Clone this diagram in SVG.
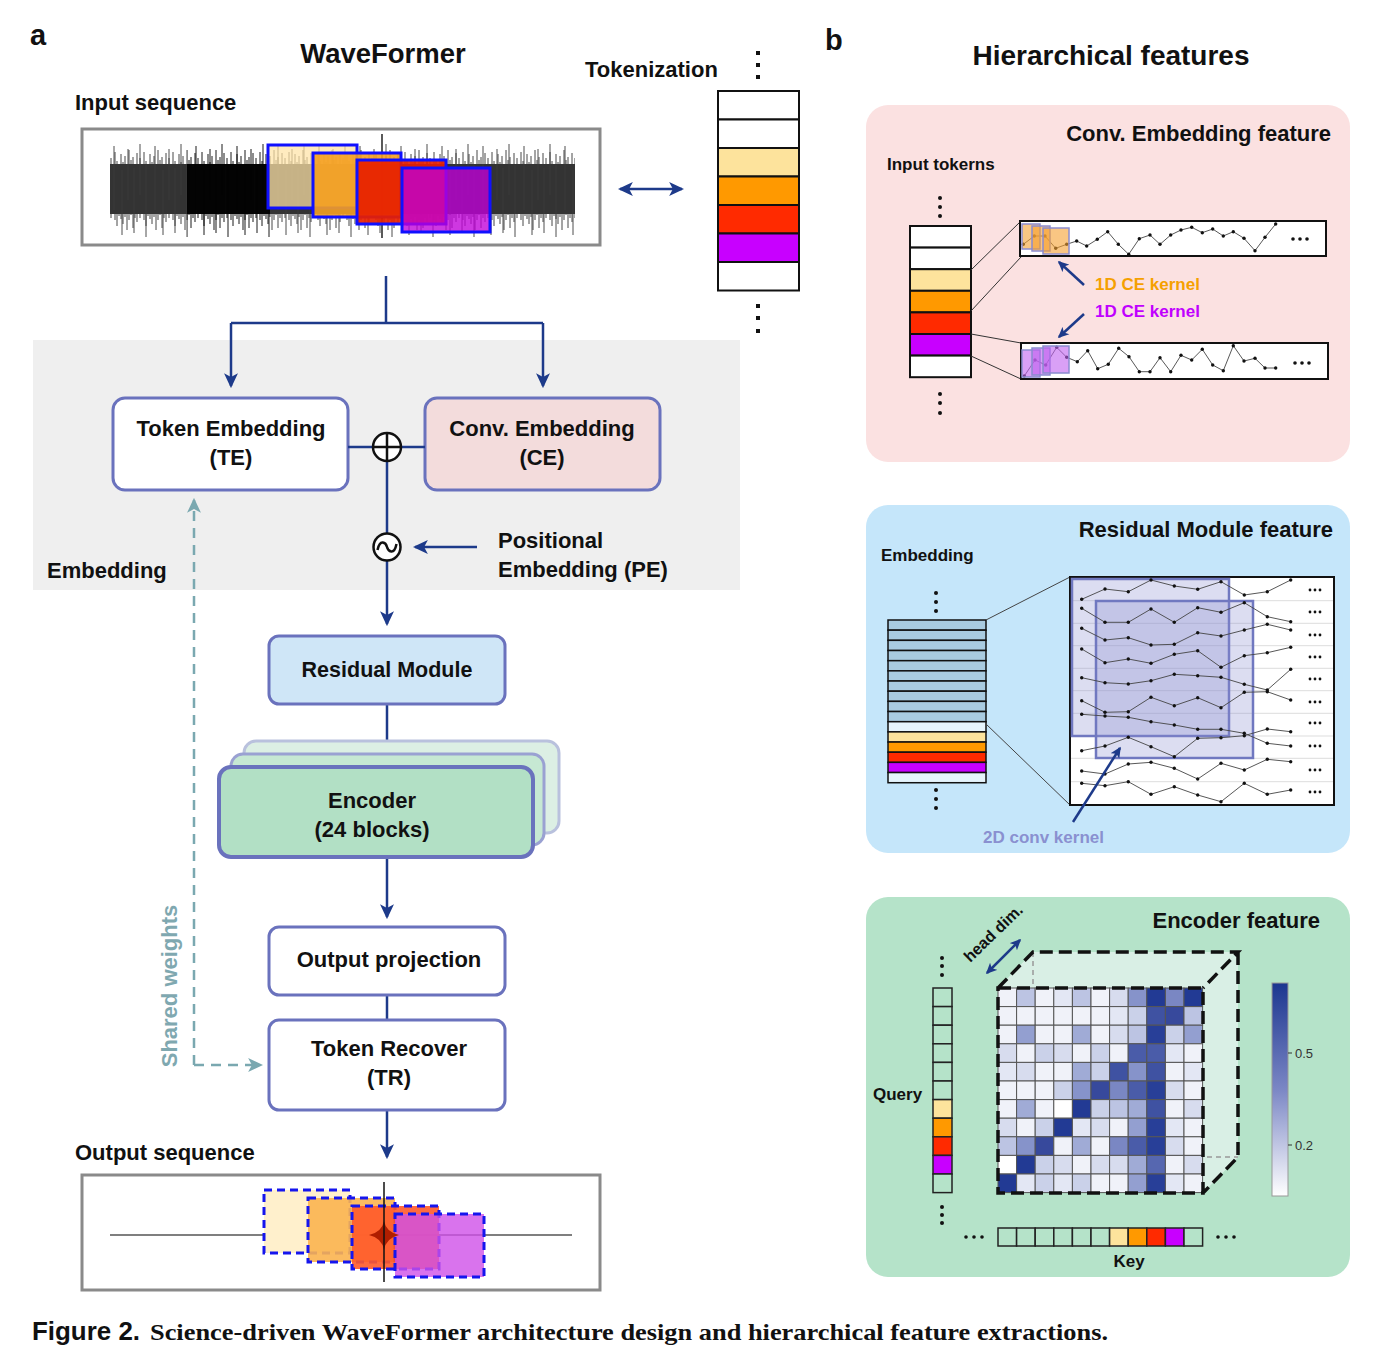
<svg xmlns="http://www.w3.org/2000/svg" xmlns:xlink="http://www.w3.org/1999/xlink" width="1380" height="1350" viewBox="0 0 1380 1350">
<style>
.t{font-family:"Liberation Sans",Arial,sans-serif;font-weight:bold;fill:#111}
.box{stroke:#6a72bd;stroke-width:3}
.nav{stroke:#1d3a8a;stroke-width:2.5;fill:none}
.tk{stroke:#111;stroke-width:2}
.sig{fill:none;stroke:#444;stroke-width:0.9;marker-start:url(#dot);marker-mid:url(#dot);marker-end:url(#dot)}
.mx rect{stroke:#555;stroke-width:1}
.c0{fill:#ffffff}.c1{fill:#f0f2f9}.c2{fill:#e3e7f4}.c3{fill:#d7dcee}.c4{fill:#cad1e9}.c5{fill:#bcc4e3}.c7{fill:#a0abd6}.c8{fill:#939fd0}.c9{fill:#8693ca}.c10{fill:#7a87c3}.c13{fill:#5667b0}.c14{fill:#4a5ca9}.c15{fill:#3f52a2}.c16{fill:#37499c}.c18{fill:#283f98}.c19{fill:#223a94}
.yl{fill:#fde39c}.or{fill:#ff9900}.rd{fill:#ff2a00}.pu{fill:#c800ff}.wh{fill:#fff}.gr{fill:#b5e3c9}
</style>
<defs>
<marker id="ah" viewBox="0 0 14 14" refX="12" refY="7" markerWidth="15" markerHeight="15" markerUnits="userSpaceOnUse" orient="auto-start-reverse"><path d="M0,0.5 L14,7 L0,13.5 L3.5,7 z" fill="#1d3a8a"/></marker>
<marker id="ahs" viewBox="0 0 14 14" refX="12" refY="7" markerWidth="11" markerHeight="11" markerUnits="userSpaceOnUse" orient="auto-start-reverse"><path d="M0,0.5 L14,7 L0,13.5 L3.5,7 z" fill="#1d3a8a"/></marker>
<marker id="aht" viewBox="0 0 14 14" refX="12" refY="7" markerWidth="15" markerHeight="15" markerUnits="userSpaceOnUse" orient="auto-start-reverse"><path d="M0,0.5 L14,7 L0,13.5 L3.5,7 z" fill="#7aa8b0"/></marker>
<marker id="dot" viewBox="0 0 4 4" refX="2" refY="2" markerWidth="4" markerHeight="4" markerUnits="userSpaceOnUse"><circle cx="2" cy="2" r="1.7" fill="#111"/></marker>
<path id="spkA" fill="none" stroke-width="0.9" d="M1 18V78M3 24V74M5 12V80M7 21V86M9 26V76M11 14V79M13 22V84M15 16V77M17 25V90M19 10V80M21 20V75M23 17V88M25 27V78M27 13V82"/>
<path id="spkB" fill="none" stroke-width="0.9" d="M4 6V70M12 30V95M18 9V60M24 28V93M30 4V55M36 25V97"/>
<pattern id="pA" patternUnits="userSpaceOnUse" x="110" y="140" width="29" height="100"><use xlink:href="#spkA" stroke="#333"/></pattern>
<pattern id="pB" patternUnits="userSpaceOnUse" x="110" y="140" width="41" height="100"><use xlink:href="#spkB" stroke="#3a3a3a"/></pattern>
<pattern id="pAK" patternUnits="userSpaceOnUse" x="110" y="140" width="29" height="100"><use xlink:href="#spkA" stroke="#000"/></pattern>
<pattern id="pBK" patternUnits="userSpaceOnUse" x="110" y="140" width="41" height="100"><use xlink:href="#spkB" stroke="#000"/></pattern>
<linearGradient id="cbar" x1="0" y1="0" x2="0" y2="1"><stop offset="0" stop-color="#1c3690"/><stop offset="0.5" stop-color="#7b87c5"/><stop offset="1" stop-color="#ffffff"/></linearGradient>
</defs>

<!-- Panel a -->
<text class="t" x="30" y="45" font-size="29">a</text>
<text class="t" x="383" y="63" font-size="27.5" text-anchor="middle">WaveFormer</text>
<text class="t" x="585" y="77" font-size="22">Tokenization</text>
<text class="t" x="75" y="110" font-size="22">Input sequence</text>

<rect x="33" y="340" width="707" height="250" fill="#efefef"/>
<text class="t" x="47" y="578" font-size="22">Embedding</text>

<g id="input-sequence">
<rect x="82" y="129" width="518" height="116" fill="#fff" stroke="#8a8a8a" stroke-width="3"/>
<rect x="110" y="164" width="77" height="50" fill="#333"/>
<rect x="187" y="164" width="83" height="50" fill="#050505"/>
<rect x="270" y="164" width="305" height="50" fill="#333"/>
<rect x="110" y="140" width="77" height="100" fill="url(#pA)"/>
<rect x="110" y="140" width="77" height="100" fill="url(#pB)"/>
<rect x="187" y="140" width="83" height="100" fill="url(#pAK)"/>
<rect x="187" y="140" width="83" height="100" fill="url(#pBK)"/>
<rect x="270" y="140" width="305" height="100" fill="url(#pA)"/>
<rect x="270" y="140" width="305" height="100" fill="url(#pB)"/>
<line x1="382" y1="134" x2="382" y2="238" stroke="#000" stroke-width="1.3"/>
<rect x="268" y="145" width="89" height="63" fill="#ffe3a6" fill-opacity="0.72" stroke="#1010ff" stroke-width="3"/>
<rect x="313" y="153" width="88" height="64" fill="#f5a020" fill-opacity="0.9" stroke="#1010ff" stroke-width="3"/>
<rect x="357" y="160" width="89" height="64" fill="#e82000" fill-opacity="0.92" stroke="#1010ff" stroke-width="3"/>
<rect x="402" y="168" width="88" height="64" fill="#c000d8" fill-opacity="0.78" stroke="#1010ff" stroke-width="3"/>
</g>

<g id="tokenization">
<rect x="718" y="91" width="81" height="28.5" class="wh tk"/>
<rect x="718" y="119.5" width="81" height="28.5" class="wh tk"/>
<rect x="718" y="148" width="81" height="28.5" class="yl tk"/>
<rect x="718" y="176.5" width="81" height="28.5" class="or tk"/>
<rect x="718" y="205" width="81" height="28.5" class="rd tk"/>
<rect x="718" y="233.5" width="81" height="28.5" class="pu tk"/>
<rect x="718" y="262" width="81" height="28.5" class="wh tk"/>
<g fill="#111"><rect x="756" y="51" width="4" height="4"/><rect x="756" y="63" width="4" height="4"/><rect x="756" y="75" width="4" height="4"/><rect x="756" y="304" width="4" height="4"/><rect x="756" y="316" width="4" height="4"/><rect x="756" y="329" width="4" height="4"/></g>
</g>

<g id="token-embedding">
<rect x="113" y="398" width="235" height="92" rx="12" fill="#fff" class="box"/>
<text class="t" x="231" y="436" font-size="22" text-anchor="middle">Token Embedding</text>
<text class="t" x="231" y="465" font-size="22" text-anchor="middle">(TE)</text>
</g>
<g id="conv-embedding">
<rect x="425" y="398" width="235" height="92" rx="12" fill="#f3dcdc" class="box"/>
<text class="t" x="542" y="436" font-size="22" text-anchor="middle">Conv. Embedding</text>
<text class="t" x="542" y="465" font-size="22" text-anchor="middle">(CE)</text>
</g>

<g id="connectors">
<path class="nav" d="M386 276V323M231 323H543" />
<line class="nav" x1="231" y1="323" x2="231" y2="386" marker-end="url(#ah)"/>
<line class="nav" x1="543" y1="323" x2="543" y2="386" marker-end="url(#ah)"/>
<line class="nav" x1="620" y1="189" x2="682" y2="189" stroke-width="3" marker-start="url(#ah)" marker-end="url(#ah)"/>
<path class="nav" d="M348 447H425M387 461V533"/>
<line class="nav" x1="387" y1="561" x2="387" y2="624" marker-end="url(#ah)"/>
<line class="nav" x1="477" y1="547" x2="415" y2="547" marker-end="url(#ah)"/>
<line class="nav" x1="387" y1="704" x2="387" y2="742"/>
<line class="nav" x1="387" y1="858" x2="387" y2="917" marker-end="url(#ah)"/>
<line class="nav" x1="387" y1="995" x2="387" y2="1020"/>
<line class="nav" x1="387" y1="1110" x2="387" y2="1157" marker-end="url(#ah)"/>
<path d="M194 1065V500" fill="none" stroke="#7aa8b0" stroke-width="2.5" stroke-dasharray="10 7" marker-end="url(#aht)"/>
<path d="M194 1065H261" fill="none" stroke="#7aa8b0" stroke-width="2.5" stroke-dasharray="10 7" marker-end="url(#aht)"/>
</g>

<g id="add-op">
<circle cx="387" cy="447" r="14" fill="#fff" stroke="#111" stroke-width="2.5"/>
<path d="M373 447H401M387 433V461" stroke="#111" stroke-width="2.5"/>
</g>
<g id="pe-op">
<circle cx="387" cy="547" r="13.5" fill="#fff" stroke="#111" stroke-width="2.5"/>
<path d="M377.5 550C380 538 386 543 387 547C388 551 394 556 396.5 544" fill="none" stroke="#111" stroke-width="2.5"/>
</g>
<g id="positional-embedding">
<text class="t" x="498" y="548" font-size="22">Positional</text>
<text class="t" x="498" y="577" font-size="22">Embedding (PE)</text>
</g>

<g id="residual-module">
<rect x="269" y="636" width="236" height="68" rx="10" fill="#cfe6f7" class="box"/>
<text class="t" x="387" y="677" font-size="21.5" text-anchor="middle">Residual Module</text>
</g>

<g id="encoder">
<rect x="244" y="741" width="315" height="92" rx="12" fill="#dcefe4" stroke="#b9c1dd" stroke-width="3"/>
<rect x="231" y="754" width="313" height="91" rx="12" fill="#c6e8d3" stroke="#9aa1d2" stroke-width="3"/>
<rect x="219" y="767" width="314" height="90" rx="12" fill="#b2e0c5" stroke="#6a72bd" stroke-width="4"/>
<text class="t" x="372" y="808" font-size="22" text-anchor="middle">Encoder</text>
<text class="t" x="372" y="837" font-size="22" text-anchor="middle">(24 blocks)</text>
</g>

<g id="output-projection">
<rect x="269" y="927" width="236" height="68" rx="10" fill="#fff" class="box"/>
<text class="t" x="389" y="967" font-size="22" text-anchor="middle">Output projection</text>
</g>
<g id="token-recover">
<rect x="269" y="1020" width="236" height="90" rx="10" fill="#fff" class="box"/>
<text class="t" x="389" y="1056" font-size="22" text-anchor="middle">Token Recover</text>
<text class="t" x="389" y="1085" font-size="22" text-anchor="middle">(TR)</text>
</g>

<text class="t" x="177" y="986" font-size="22" text-anchor="middle" style="fill:#7fa8b0" transform="rotate(-90 177 986)">Shared weights</text>

<text class="t" x="75" y="1160" font-size="22">Output sequence</text>
<g id="output-sequence">
<rect x="82" y="1175" width="518" height="115" fill="#fff" stroke="#8a8a8a" stroke-width="3"/>
<line x1="110" y1="1235" x2="572" y2="1235" stroke="#555" stroke-width="1.5"/>
<rect x="264" y="1190" width="86" height="63" fill="#fff0cc" stroke="#1515ee" stroke-width="3" stroke-dasharray="8 5"/>
<rect x="308" y="1198" width="87" height="64" fill="#fbb450" fill-opacity="0.9" stroke="#1515ee" stroke-width="3" stroke-dasharray="8 5"/>
<rect x="352" y="1206" width="87" height="63" fill="#ff5a2a" fill-opacity="0.9" stroke="#1515ee" stroke-width="3" stroke-dasharray="8 5"/>
<rect x="395" y="1214" width="89" height="63" fill="#d050e8" fill-opacity="0.8" stroke="#1515ee" stroke-width="3" stroke-dasharray="8 5"/>
<path d="M384 1221Q386 1232 399 1235Q386 1238 384 1250Q382 1238 369 1235Q382 1232 384 1221Z" fill="#b01e00"/>
<line x1="384" y1="1182" x2="384" y2="1282" stroke="#111" stroke-width="1.5"/>
</g>

<text x="32" y="1340" font-family="'Liberation Sans',Arial,sans-serif" font-weight="bold" font-size="25" textLength="108" lengthAdjust="spacingAndGlyphs" fill="#111">Figure 2.</text>
<text x="150" y="1340" font-family="'Liberation Serif','Times New Roman',serif" font-weight="bold" font-size="23" textLength="958" lengthAdjust="spacingAndGlyphs" fill="#111">Science-driven WaveFormer architecture design and hierarchical feature extractions.</text>

<!-- Panel b -->
<text class="t" x="825" y="50" font-size="29">b</text>
<text class="t" x="1111" y="65" font-size="28" text-anchor="middle">Hierarchical features</text>

<g id="conv-embedding-feature">
<rect x="866" y="105" width="484" height="357" rx="22" fill="#fbe1e1"/>
<text class="t" x="1331" y="141" font-size="22" text-anchor="end">Conv. Embedding feature</text>
<text class="t" x="887" y="170" font-size="17">Input tokerns</text>
<g fill="#111"><circle cx="940" cy="198" r="2"/><circle cx="940" cy="207" r="2"/><circle cx="940" cy="216" r="2"/><circle cx="940" cy="394" r="2"/><circle cx="940" cy="403" r="2"/><circle cx="940" cy="413" r="2"/></g>
<rect x="910" y="226" width="61" height="21.6" class="wh tk"/>
<rect x="910" y="247.6" width="61" height="21.6" class="wh tk"/>
<rect x="910" y="269.2" width="61" height="21.6" class="yl tk"/>
<rect x="910" y="290.8" width="61" height="21.6" class="or tk"/>
<rect x="910" y="312.4" width="61" height="21.6" class="rd tk"/>
<rect x="910" y="334" width="61" height="21.6" class="pu tk"/>
<rect x="910" y="355.6" width="61" height="21.6" class="wh tk"/>
<path d="M971 270L1021 221M971 311L1021 257M971 334L1021 343M971 356L1021 379" stroke="#333" stroke-width="1"/>
<rect x="1020" y="221" width="306" height="35" fill="#fff" stroke="#111" stroke-width="2"/>
<rect x="1021" y="343" width="307" height="36" fill="#fff" stroke="#111" stroke-width="2"/>
<polyline class="sig" points="1023.3,244.3 1034.3,236 1045,236 1055.7,248.3 1066.7,244.3 1076.7,241 1086.7,246 1097.3,239.3 1107.7,231.7 1118.3,244.3 1128.7,254.3 1139.3,238.7 1150,235 1160,244.3 1170.7,235 1181,230 1191.7,227.3 1202.3,232.7 1212.7,229 1223.3,236 1233.3,231.7 1244,238.3 1255,250.7 1265,237.3 1275.7,224"/>
<polyline class="sig" points="1024.3,376 1035,360 1045.7,365 1056.7,347.3 1066.7,357.3 1077.3,361.7 1087.7,350.7 1097.7,368.7 1108.3,364.3 1118.7,348.3 1129,356.7 1139.3,371.7 1150,371.7 1160,357.7 1170.7,371.7 1181,355.3 1191.7,360 1202.3,349.3 1212.7,365 1223.3,370.7 1233.3,345.7 1244,361 1255,358.3 1265,368 1275.7,368"/>
<g fill="#f5a030" fill-opacity="0.6" stroke="#8a8ccf" stroke-width="1.5">
<rect x="1022" y="224" width="18" height="25"/><rect x="1032" y="226" width="18" height="25"/><rect x="1043" y="228" width="26" height="26"/>
</g>
<g fill="#c060f0" fill-opacity="0.6" stroke="#8a8ccf" stroke-width="1.5">
<rect x="1022" y="350" width="18" height="27"/><rect x="1032" y="348" width="18" height="27"/><rect x="1043" y="346" width="26" height="27"/>
</g>
<g fill="#111"><circle cx="1293" cy="239" r="1.8"/><circle cx="1300" cy="239" r="1.8"/><circle cx="1307" cy="239" r="1.8"/><circle cx="1295" cy="363" r="1.8"/><circle cx="1302" cy="363" r="1.8"/><circle cx="1309" cy="363" r="1.8"/></g>
<text class="t" x="1095" y="290" font-size="17" style="fill:#f5a000">1D CE kernel</text>
<text class="t" x="1095" y="317" font-size="17" style="fill:#c000ff">1D CE kernel</text>
</g>

<g id="residual-module-feature">
<rect x="866" y="505" width="484" height="348" rx="22" fill="#c5e6fa"/>
<text class="t" x="1333" y="537" font-size="22" text-anchor="end">Residual Module feature</text>
<text class="t" x="881" y="561" font-size="17">Embedding</text>
<g fill="#111"><circle cx="936" cy="593" r="2"/><circle cx="936" cy="602" r="2"/><circle cx="936" cy="611" r="2"/><circle cx="936" cy="790" r="2"/><circle cx="936" cy="799" r="2"/><circle cx="936" cy="808" r="2"/></g>
<g stroke="#111" stroke-width="1.5">
<rect x="888" y="620" width="98" height="10.17" fill="#a9cbe0"/>
<rect x="888" y="630.17" width="98" height="10.17" fill="#a9cbe0"/>
<rect x="888" y="640.34" width="98" height="10.17" fill="#a9cbe0"/>
<rect x="888" y="650.51" width="98" height="10.17" fill="#a9cbe0"/>
<rect x="888" y="660.68" width="98" height="10.17" fill="#a9cbe0"/>
<rect x="888" y="670.85" width="98" height="10.17" fill="#a9cbe0"/>
<rect x="888" y="681.02" width="98" height="10.17" fill="#a9cbe0"/>
<rect x="888" y="691.19" width="98" height="10.17" fill="#a9cbe0"/>
<rect x="888" y="701.36" width="98" height="10.17" fill="#a9cbe0"/>
<rect x="888" y="711.53" width="98" height="10.17" fill="#a9cbe0"/>
<rect x="888" y="721.7" width="98" height="10.17" fill="#e6f4fc"/>
<rect x="888" y="731.87" width="98" height="10.17" fill="#fde39c"/>
<rect x="888" y="742.04" width="98" height="10.17" fill="#ff9900"/>
<rect x="888" y="752.21" width="98" height="10.17" fill="#ff2a00"/>
<rect x="888" y="762.38" width="98" height="10.17" fill="#c800ff"/>
<rect x="888" y="772.55" width="98" height="10.17" fill="#e6f4fc"/>
</g>
<path d="M986 620L1070 577M986 724L1070 805" stroke="#444" stroke-width="1"/>
<rect x="1070" y="577" width="264" height="228" fill="#fff" stroke="#111" stroke-width="2"/>
<path d="M1071 600.7H1333M1071 623.3H1333M1071 645.7H1333M1071 668.3H1333M1071 690.7H1333M1071 713.3H1333M1071 736H1333M1071 758.3H1333M1071 781.7H1333" stroke="#ddd" stroke-width="1"/>
<rect x="1072" y="579" width="157" height="157" fill="#8a90d0" fill-opacity="0.3" stroke="#7078c0" stroke-width="2.5"/>
<rect x="1096" y="601" width="157" height="157" fill="#8a90d0" fill-opacity="0.3" stroke="#7078c0" stroke-width="2.5"/>
<g>
<polyline class="sig" points="1081.7,599.3 1105,589 1128.3,591.7 1151,580 1174.3,586 1197.7,589.3 1221,581.7 1244.3,595 1267.3,591.7 1290.7,580"/>
<polyline class="sig" points="1081.7,608.3 1105,622.3 1128.3,622.3 1151,609 1174.3,622.3 1197.7,607.7 1221,612.3 1244.3,602.7 1267.3,616.7 1290.7,621.7"/>
<polyline class="sig" points="1081.7,628.3 1105,640 1128.3,637.7 1151,645 1174.3,644.3 1197.7,632.7 1221,636 1244.3,630 1267.3,624.3 1290.7,630"/>
<polyline class="sig" points="1081.7,649 1105,662.7 1128.3,659 1151,663.3 1174.3,654.3 1197.7,650.7 1221,667.3 1244.3,655.7 1267.3,652.7 1290.7,647.3"/>
<polyline class="sig" points="1081.7,677.7 1105,682.7 1128.3,684 1151,680.7 1174.3,674.3 1197.7,675.7 1221,677.3 1244.3,684.3 1267.3,690 1290.7,669.3"/>
<polyline class="sig" points="1081.7,700.7 1105,712.3 1128.3,711.7 1151,697.3 1174.3,705.7 1197.7,697.7 1221,707.7 1244.3,692.3 1267.3,691.7 1290.7,700"/>
<polyline class="sig" points="1081.7,714.3 1105,716 1128.3,717.3 1151,721.7 1174.3,725 1197.7,729.3 1221,729.3 1244.3,733.3 1267.3,743.3 1290.7,746"/>
<polyline class="sig" points="1081.7,750.7 1105,746 1128.3,737.3 1151,746.7 1174.3,756.7 1197.7,738.3 1221,737.7 1244.3,735.7 1267.3,729 1290.7,731.7"/>
<polyline class="sig" points="1081.7,771 1105,774 1128.3,764 1151,762.3 1174.3,768.3 1197.7,779 1221,763.3 1244.3,770 1267.3,759.3 1290.7,761.7"/>
<polyline class="sig" points="1081.7,783.3 1105,785.7 1128.3,781.7 1151,794.3 1174.3,786.7 1197.7,795 1221,801.7 1244.3,783.3 1267.3,794.3 1290.7,790"/>
</g>
<g fill="#111">
<circle cx="1310" cy="590" r="1.4"/><circle cx="1315" cy="590" r="1.4"/><circle cx="1320" cy="590" r="1.4"/>
<circle cx="1310" cy="612" r="1.4"/><circle cx="1315" cy="612" r="1.4"/><circle cx="1320" cy="612" r="1.4"/>
<circle cx="1310" cy="635" r="1.4"/><circle cx="1315" cy="635" r="1.4"/><circle cx="1320" cy="635" r="1.4"/>
<circle cx="1310" cy="657" r="1.4"/><circle cx="1315" cy="657" r="1.4"/><circle cx="1320" cy="657" r="1.4"/>
<circle cx="1310" cy="679" r="1.4"/><circle cx="1315" cy="679" r="1.4"/><circle cx="1320" cy="679" r="1.4"/>
<circle cx="1310" cy="702" r="1.4"/><circle cx="1315" cy="702" r="1.4"/><circle cx="1320" cy="702" r="1.4"/>
<circle cx="1310" cy="723" r="1.4"/><circle cx="1315" cy="723" r="1.4"/><circle cx="1320" cy="723" r="1.4"/>
<circle cx="1310" cy="746" r="1.4"/><circle cx="1315" cy="746" r="1.4"/><circle cx="1320" cy="746" r="1.4"/>
<circle cx="1310" cy="770" r="1.4"/><circle cx="1315" cy="770" r="1.4"/><circle cx="1320" cy="770" r="1.4"/>
<circle cx="1310" cy="792" r="1.4"/><circle cx="1315" cy="792" r="1.4"/><circle cx="1320" cy="792" r="1.4"/>
</g>
<text class="t" x="983" y="843" font-size="17" style="fill:#8a90d0">2D conv kernel</text>
</g>

<g id="encoder-feature">
<rect x="866" y="897" width="484" height="380" rx="22" fill="#b5e3c9"/>
<text class="t" x="1320" y="928" font-size="22" text-anchor="end">Encoder feature</text>
<text class="t" x="997" y="937" font-size="16" text-anchor="middle" transform="rotate(-44 997 937)">head dim.</text>
<text class="t" x="873" y="1100" font-size="17">Query</text>
<g fill="#111"><circle cx="942" cy="958" r="2"/><circle cx="942" cy="966" r="2"/><circle cx="942" cy="975" r="2"/><circle cx="942" cy="1207" r="2"/><circle cx="942" cy="1215" r="2"/><circle cx="942" cy="1223" r="2"/></g>
<g stroke="#222" stroke-width="1.5">
<rect x="933" y="988" width="19" height="18.6" class="gr"/>
<rect x="933" y="1006.6" width="19" height="18.6" class="gr"/>
<rect x="933" y="1025.2" width="19" height="18.6" class="gr"/>
<rect x="933" y="1043.8" width="19" height="18.6" class="gr"/>
<rect x="933" y="1062.4" width="19" height="18.6" class="gr"/>
<rect x="933" y="1081" width="19" height="18.6" class="gr"/>
<rect x="933" y="1099.6" width="19" height="18.6" class="yl"/>
<rect x="933" y="1118.2" width="19" height="18.6" class="or"/>
<rect x="933" y="1136.8" width="19" height="18.6" class="rd"/>
<rect x="933" y="1155.4" width="19" height="18.6" class="pu"/>
<rect x="933" y="1174" width="19" height="18.6" class="gr"/>
</g>
<polygon points="998,988 1033,952 1238,952 1203,988" fill="#d9efe5"/>
<polygon points="1203,988 1238,952 1238,1157 1203,1193" fill="#d9efe5"/>
<path d="M1033 952V988M1207 1157H1238" stroke="#999" stroke-width="1.5" stroke-dasharray="5 4" fill="none"/>
<g class="mx">
<g transform="translate(998 988)"><rect x="0" width="18.6" height="18.6" class="c1"/><rect x="18.6" width="18.6" height="18.6" class="c5"/><rect x="37.2" width="18.6" height="18.6" class="c1"/><rect x="55.8" width="18.6" height="18.6" class="c2"/><rect x="74.4" width="18.6" height="18.6" class="c5"/><rect x="93" width="18.6" height="18.6" class="c1"/><rect x="111.6" width="18.6" height="18.6" class="c3"/><rect x="130.2" width="18.6" height="18.6" class="c9"/><rect x="148.8" width="18.6" height="18.6" class="c19"/><rect x="167.4" width="18.6" height="18.6" class="c10"/><rect x="186" width="18.6" height="18.6" class="c19"/></g>
<g transform="translate(998 1006.6)"><rect x="0" width="18.6" height="18.6" class="c1"/><rect x="18.6" width="18.6" height="18.6" class="c1"/><rect x="37.2" width="18.6" height="18.6" class="c1"/><rect x="55.8" width="18.6" height="18.6" class="c1"/><rect x="74.4" width="18.6" height="18.6" class="c1"/><rect x="93" width="18.6" height="18.6" class="c1"/><rect x="111.6" width="18.6" height="18.6" class="c2"/><rect x="130.2" width="18.6" height="18.6" class="c4"/><rect x="148.8" width="18.6" height="18.6" class="c15"/><rect x="167.4" width="18.6" height="18.6" class="c16"/><rect x="186" width="18.6" height="18.6" class="c5"/></g>
<g transform="translate(998 1025.2)"><rect x="0" width="18.6" height="18.6" class="c1"/><rect x="18.6" width="18.6" height="18.6" class="c8"/><rect x="37.2" width="18.6" height="18.6" class="c1"/><rect x="55.8" width="18.6" height="18.6" class="c1"/><rect x="74.4" width="18.6" height="18.6" class="c7"/><rect x="93" width="18.6" height="18.6" class="c1"/><rect x="111.6" width="18.6" height="18.6" class="c3"/><rect x="130.2" width="18.6" height="18.6" class="c5"/><rect x="148.8" width="18.6" height="18.6" class="c18"/><rect x="167.4" width="18.6" height="18.6" class="c4"/><rect x="186" width="18.6" height="18.6" class="c8"/></g>
<g transform="translate(998 1043.8)"><rect x="0" width="18.6" height="18.6" class="c3"/><rect x="18.6" width="18.6" height="18.6" class="c1"/><rect x="37.2" width="18.6" height="18.6" class="c4"/><rect x="55.8" width="18.6" height="18.6" class="c3"/><rect x="74.4" width="18.6" height="18.6" class="c1"/><rect x="93" width="18.6" height="18.6" class="c4"/><rect x="111.6" width="18.6" height="18.6" class="c1"/><rect x="130.2" width="18.6" height="18.6" class="c14"/><rect x="148.8" width="18.6" height="18.6" class="c14"/><rect x="167.4" width="18.6" height="18.6" class="c2"/><rect x="186" width="18.6" height="18.6" class="c1"/></g>
<g transform="translate(998 1062.4)"><rect x="0" width="18.6" height="18.6" class="c2"/><rect x="18.6" width="18.6" height="18.6" class="c3"/><rect x="37.2" width="18.6" height="18.6" class="c1"/><rect x="55.8" width="18.6" height="18.6" class="c1"/><rect x="74.4" width="18.6" height="18.6" class="c7"/><rect x="93" width="18.6" height="18.6" class="c4"/><rect x="111.6" width="18.6" height="18.6" class="c15"/><rect x="130.2" width="18.6" height="18.6" class="c9"/><rect x="148.8" width="18.6" height="18.6" class="c15"/><rect x="167.4" width="18.6" height="18.6" class="c1"/><rect x="186" width="18.6" height="18.6" class="c2"/></g>
<g transform="translate(998 1081)"><rect x="0" width="18.6" height="18.6" class="c1"/><rect x="18.6" width="18.6" height="18.6" class="c1"/><rect x="37.2" width="18.6" height="18.6" class="c1"/><rect x="55.8" width="18.6" height="18.6" class="c4"/><rect x="74.4" width="18.6" height="18.6" class="c9"/><rect x="93" width="18.6" height="18.6" class="c16"/><rect x="111.6" width="18.6" height="18.6" class="c10"/><rect x="130.2" width="18.6" height="18.6" class="c14"/><rect x="148.8" width="18.6" height="18.6" class="c18"/><rect x="167.4" width="18.6" height="18.6" class="c3"/><rect x="186" width="18.6" height="18.6" class="c1"/></g>
<g transform="translate(998 1099.6)"><rect x="0" width="18.6" height="18.6" class="c1"/><rect x="18.6" width="18.6" height="18.6" class="c7"/><rect x="37.2" width="18.6" height="18.6" class="c1"/><rect x="55.8" width="18.6" height="18.6" class="c0"/><rect x="74.4" width="18.6" height="18.6" class="c19"/><rect x="93" width="18.6" height="18.6" class="c4"/><rect x="111.6" width="18.6" height="18.6" class="c5"/><rect x="130.2" width="18.6" height="18.6" class="c7"/><rect x="148.8" width="18.6" height="18.6" class="c15"/><rect x="167.4" width="18.6" height="18.6" class="c1"/><rect x="186" width="18.6" height="18.6" class="c3"/></g>
<g transform="translate(998 1118.2)"><rect x="0" width="18.6" height="18.6" class="c3"/><rect x="18.6" width="18.6" height="18.6" class="c1"/><rect x="37.2" width="18.6" height="18.6" class="c4"/><rect x="55.8" width="18.6" height="18.6" class="c19"/><rect x="74.4" width="18.6" height="18.6" class="c2"/><rect x="93" width="18.6" height="18.6" class="c3"/><rect x="111.6" width="18.6" height="18.6" class="c1"/><rect x="130.2" width="18.6" height="18.6" class="c8"/><rect x="148.8" width="18.6" height="18.6" class="c18"/><rect x="167.4" width="18.6" height="18.6" class="c2"/><rect x="186" width="18.6" height="18.6" class="c1"/></g>
<g transform="translate(998 1136.8)"><rect x="0" width="18.6" height="18.6" class="c5"/><rect x="18.6" width="18.6" height="18.6" class="c9"/><rect x="37.2" width="18.6" height="18.6" class="c16"/><rect x="55.8" width="18.6" height="18.6" class="c1"/><rect x="74.4" width="18.6" height="18.6" class="c7"/><rect x="93" width="18.6" height="18.6" class="c1"/><rect x="111.6" width="18.6" height="18.6" class="c10"/><rect x="130.2" width="18.6" height="18.6" class="c14"/><rect x="148.8" width="18.6" height="18.6" class="c18"/><rect x="167.4" width="18.6" height="18.6" class="c3"/><rect x="186" width="18.6" height="18.6" class="c1"/></g>
<g transform="translate(998 1155.4)"><rect x="0" width="18.6" height="18.6" class="c0"/><rect x="18.6" width="18.6" height="18.6" class="c19"/><rect x="37.2" width="18.6" height="18.6" class="c4"/><rect x="55.8" width="18.6" height="18.6" class="c3"/><rect x="74.4" width="18.6" height="18.6" class="c1"/><rect x="93" width="18.6" height="18.6" class="c3"/><rect x="111.6" width="18.6" height="18.6" class="c3"/><rect x="130.2" width="18.6" height="18.6" class="c7"/><rect x="148.8" width="18.6" height="18.6" class="c13"/><rect x="167.4" width="18.6" height="18.6" class="c1"/><rect x="186" width="18.6" height="18.6" class="c3"/></g>
<g transform="translate(998 1174)"><rect x="0" width="18.6" height="18.6" class="c19"/><rect x="18.6" width="18.6" height="18.6" class="c2"/><rect x="37.2" width="18.6" height="18.6" class="c4"/><rect x="55.8" width="18.6" height="18.6" class="c2"/><rect x="74.4" width="18.6" height="18.6" class="c4"/><rect x="93" width="18.6" height="18.6" class="c1"/><rect x="111.6" width="18.6" height="18.6" class="c1"/><rect x="130.2" width="18.6" height="18.6" class="c8"/><rect x="148.8" width="18.6" height="18.6" class="c18"/><rect x="167.4" width="18.6" height="18.6" class="c2"/><rect x="186" width="18.6" height="18.6" class="c1"/></g>
</g>
<path d="M998 988H1203V1193H998ZM998 988L1033 952H1238L1203 988M1238 952V1157L1203 1193" fill="none" stroke="#111" stroke-width="3.5" stroke-dasharray="13 6"/>
<rect x="1272" y="983" width="16" height="213" fill="url(#cbar)" stroke="#999" stroke-width="1"/>
<path d="M1288 1053H1292M1288 1145H1292" stroke="#333" stroke-width="1.2"/>
<text x="1295" y="1058" font-family="'Liberation Sans',Arial,sans-serif" font-size="13" fill="#333">0.5</text>
<text x="1295" y="1150" font-family="'Liberation Sans',Arial,sans-serif" font-size="13" fill="#333">0.2</text>
<g stroke="#222" stroke-width="1.5">
<rect x="998" y="1228" width="18.6" height="18" class="gr"/>
<rect x="1016.6" y="1228" width="18.6" height="18" class="gr"/>
<rect x="1035.2" y="1228" width="18.6" height="18" class="gr"/>
<rect x="1053.8" y="1228" width="18.6" height="18" class="gr"/>
<rect x="1072.4" y="1228" width="18.6" height="18" class="gr"/>
<rect x="1091" y="1228" width="18.6" height="18" class="gr"/>
<rect x="1109.6" y="1228" width="18.6" height="18" class="yl"/>
<rect x="1128.2" y="1228" width="18.6" height="18" class="or"/>
<rect x="1146.8" y="1228" width="18.6" height="18" class="rd"/>
<rect x="1165.4" y="1228" width="18.6" height="18" class="pu"/>
<rect x="1184" y="1228" width="18.6" height="18" class="gr"/>
</g>
<g fill="#111"><circle cx="966" cy="1237" r="1.8"/><circle cx="974" cy="1237" r="1.8"/><circle cx="982" cy="1237" r="1.8"/><circle cx="1218" cy="1237" r="1.8"/><circle cx="1226" cy="1237" r="1.8"/><circle cx="1234" cy="1237" r="1.8"/></g>
<text class="t" x="1129" y="1267" font-size="17" text-anchor="middle">Key</text>
</g>

<g id="connectors-b">
<line class="nav" x1="1084" y1="285" x2="1059" y2="262" stroke-width="2" marker-end="url(#ahs)"/>
<line class="nav" x1="1084" y1="314" x2="1059" y2="337" stroke-width="2" marker-end="url(#ahs)"/>
<line class="nav" x1="1073" y1="822" x2="1120" y2="748" stroke-width="2" marker-end="url(#ahs)"/>
<line class="nav" x1="987" y1="973" x2="1020" y2="940" stroke-width="2" marker-start="url(#ahs)" marker-end="url(#ahs)"/>
</g>
</svg>
